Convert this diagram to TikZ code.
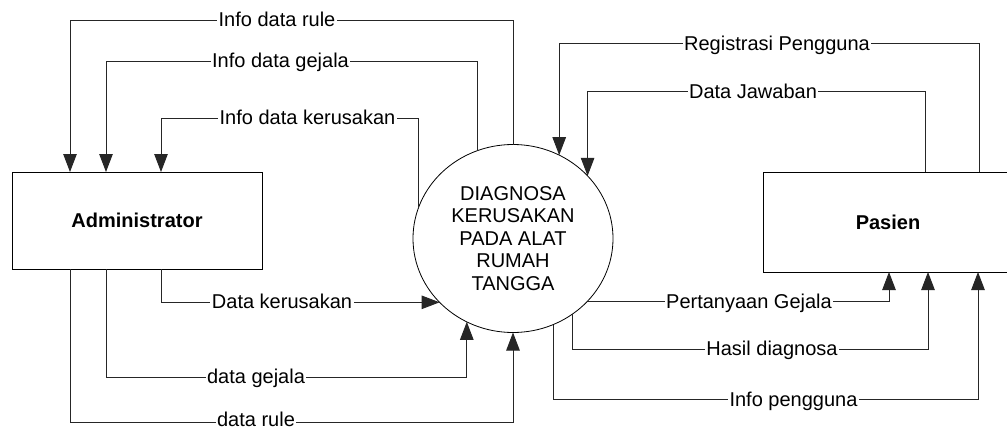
\documentclass[tikz,border=0pt]{standalone}
\usepackage{fontspec}
\setmainfont{Liberation Sans}
\usetikzlibrary{arrows.meta,shapes.geometric}

\tikzset{
  entity/.style={draw, line width=0.9pt, rectangle, minimum width=250pt,
    inner sep=0pt, outer sep=0pt, font=\fontsize{20}{24}\selectfont\bfseries},
  process/.style={draw, line width=0.8pt, ellipse, minimum width=200pt,
    minimum height=188pt, inner sep=0pt, outer sep=0pt, align=center,
    font=\fontsize{20}{22.5}\selectfont},
  flow/.style={line width=0.9pt, draw=black!85},
  flowin/.style={flow, -{Triangle[length=18pt,width=13.5pt]}},
  flowlabel/.style={fill=white, inner sep=1.5pt, anchor=base, yshift=-6.8pt,
    font=\fontsize{20}{24}\selectfont}
}

\begin{document}
\begin{tikzpicture}[x=1pt,y=-1pt]
  \clip (0,0) rectangle (1007,428);
  \fill[white] (0,0) rectangle (1007,428);

  % external entities and the process
  \node[entity, minimum height=97pt]  (adm) at (137,220.5) {Administrator};
  \node[entity, minimum height=100pt] (pas) at (888,222) {Pasien};
  \node[process] (proc) at (513,238.5)
    {DIAGNOSA\\KERUSAKAN\\PADA ALAT\\RUMAH\\TANGGA};

  % process -> Administrator
  \draw[flowin] (proc.north) |- ([xshift=-67pt]adm.north |- 0,20)
    -- ([xshift=-67pt]adm.north);
  \draw[flowin] (proc.112.3) |- ([xshift=-31pt]adm.north |- 0,61)
    -- ([xshift=-31pt]adm.north);
  \draw[flowin] (proc.162.8) |- ([xshift=24pt]adm.north |- 0,118)
    -- ([xshift=24pt]adm.north);

  % Administrator -> process
  \draw[flowin] ([xshift=24pt]adm.south) |- (proc.-139.67);
  \draw[flowin] ([xshift=-31pt]adm.south) -- ++(0,108) -| (proc.-119.5);
  \draw[flowin] ([xshift=-67pt]adm.south) -- ++(0,153) -| (proc.south);

  % Pasien -> process
  \draw[flowin] ([xshift=91pt]pas.north) |- (proc.61.79 |- 0,43.5)
    -- (proc.61.79);
  \draw[flowin] ([xshift=37pt]pas.north) |- (proc.40.5 |- 0,91.5)
    -- (proc.40.5);

  % process -> Pasien
  \draw[flowin] (proc.-40.33) -| ([xshift=1pt]pas.south);
  \draw[flowin] (proc.-52.48) |- ([xshift=40pt]pas.south |- 0,349)
    -- ([xshift=40pt]pas.south);
  \draw[flowin] (proc.-65.43) |- ([xshift=90pt]pas.south |- 0,399.5)
    -- ([xshift=90pt]pas.south);

  % data flow labels
  \node[flowlabel] (l1)  at (277,20)      {Info data rule};
  \node[flowlabel] (l2)  at (280.5,61)    {Info data gejala};
  \node[flowlabel] (l3)  at (307.5,118)   {Info data kerusakan};
  \node[flowlabel] (l4)  at (282,301.5)   {Data kerusakan};
  \node[flowlabel] (l5)  at (256,377)     {data gejala};
  \node[flowlabel, inner ysep=0.3pt, yshift=2.2pt] (l6) at (256,422) {data rule};
  \node[flowlabel] (l7)  at (777,43.5)    {Registrasi Pengguna};
  \node[flowlabel] (l8)  at (753,91.5)    {Data Jawaban};
  \node[flowlabel] (l9)  at (749,301.5)   {Pertanyaan Gejala};
  \node[flowlabel] (l10) at (772,349)     {Hasil diagnosa};
  \node[flowlabel] (l11) at (793.5,399.5) {Info pengguna};
\end{tikzpicture}
\end{document}
